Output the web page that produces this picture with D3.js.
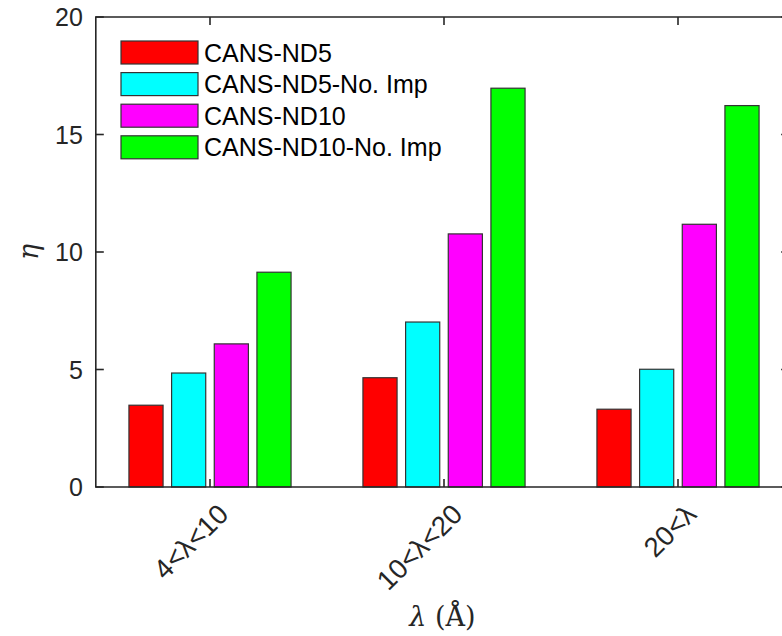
<!DOCTYPE html>
<html>
<head>
<meta charset="utf-8">
<script src="https://cdn.jsdelivr.net/npm/d3@7"></script>
<style>
  html, body { margin: 0; padding: 0; background: #fff; overflow: hidden; }
  svg { display: block; }
</style>
</head>
<body>
<div id="chart"></div>
<script>
// ─── Data ───
const categories = ['4<λ<10', '10<λ<20', '20<λ'];
const seriesNames = ['CANS-ND5', 'CANS-ND5-No. Imp', 'CANS-ND10', 'CANS-ND10-No. Imp'];
const seriesColors = ['#ff0000', '#00ffff', '#ff00ff', '#00ff00'];
const nd5 = [3.48, 4.65, 3.31];
const nd5NoImp = [4.85, 7.02, 5.01];
const nd10 = [6.09, 10.77, 11.18];
const nd10NoImp = [9.14, 16.97, 16.23];
const yTicks = [0, 5, 10, 15, 20];

const seriesValues = [nd5, nd5NoImp, nd10, nd10NoImp];

const W = 782, H = 636;
const axisColor = '#262626';
const sans = "'Liberation Sans', Arial, Helvetica, sans-serif";
const serif = "'DejaVu Serif', 'Liberation Serif', serif";

const svg = d3.select('#chart').append('svg')
  .attr('width', W)
  .attr('height', H);

// ─── Scales ───
const x = d3.scaleLinear().domain([1, 3]).range([210, 678]);
const xLo = 0.512, xHi = 3.475;
const y = d3.scaleLinear().domain([0, 20]).range([487, 17]);

const inner = d3.scaleBand()
  .domain(seriesNames)
  .range([-85.33, 85.33])
  .paddingInner(0.2)
  .paddingOuter(0.1);

// ─── Bars ───
const groups = svg.append('g').selectAll('g')
  .data(categories)
  .join('g')
  .attr('transform', (d, i) => `translate(${x(i + 1)},0)`);

groups.selectAll('rect')
  .data((d, i) => seriesNames.map((s, k) => ({ s, k, v: seriesValues[k][i] })))
  .join('rect')
  .attr('x', d => inner(d.s))
  .attr('width', inner.bandwidth())
  .attr('y', d => y(d.v))
  .attr('height', d => y(0) - y(d.v))
  .attr('fill', d => seriesColors[d.k])
  .attr('stroke', '#333')
  .attr('stroke-width', 1.2);

// ─── Axes box ───
const x0 = x(xLo), x1 = x(xHi);
const frame = svg.append('g')
  .attr('stroke', axisColor)
  .attr('stroke-width', 1.6)
  .attr('fill', 'none');
frame.append('path')
  .attr('d', `M${x0},${y(20)}H${x1}V${y(0)}H${x0}Z`);

// y ticks (left + right, inward)
yTicks.forEach(t => {
  frame.append('line').attr('x1', x0).attr('x2', x0 + 8).attr('y1', y(t)).attr('y2', y(t));
  frame.append('line').attr('x1', x1).attr('x2', x1 - 8).attr('y1', y(t)).attr('y2', y(t));
});
// x ticks (bottom + top, inward)
categories.forEach((c, i) => {
  const cx = x(i + 1);
  frame.append('line').attr('x1', cx).attr('x2', cx).attr('y1', y(0)).attr('y2', y(0) - 8);
  frame.append('line').attr('x1', cx).attr('x2', cx).attr('y1', y(20)).attr('y2', y(20) + 8);
});

// y tick labels
svg.append('g').selectAll('text')
  .data(yTicks)
  .join('text')
  .attr('x', x0 - 13)
  .attr('y', d => y(d))
  .attr('dy', '0.36em')
  .attr('text-anchor', 'end')
  .attr('font-family', sans)
  .attr('font-size', '25px')
  .attr('fill', axisColor)
  .text(d => d);

// x tick labels, rotated 45°
svg.append('g').selectAll('text')
  .data(categories)
  .join('text')
  .attr('transform', (d, i) => `translate(${x(i + 1) + 6},${y(0) + 15}) rotate(-45)`)
  .attr('dy', '0.72em')
  .attr('text-anchor', 'end')
  .attr('font-family', sans)
  .attr('font-size', '27.5px')
  .attr('fill', axisColor)
  .text(d => d);

// axis labels
svg.append('text')
  .attr('transform', `translate(${(x0 + x1) / 2},626)`)
  .attr('text-anchor', 'middle')
  .attr('font-family', serif)
  .attr('font-size', '27px')
  .attr('fill', axisColor)
  .html('<tspan font-style="italic">λ</tspan> (Å)');

svg.append('text')
  .attr('transform', `translate(38,${y(10)}) rotate(-90)`)
  .attr('text-anchor', 'middle')
  .attr('font-family', serif)
  .attr('font-style', 'italic')
  .attr('font-size', '27px')
  .attr('fill', axisColor)
  .text('η');

// ─── Legend ───
const legend = svg.append('g').attr('transform', 'translate(121,41)');
const rows = legend.selectAll('g')
  .data(seriesNames)
  .join('g')
  .attr('transform', (d, i) => `translate(0,${i * 31.6})`);
rows.append('rect')
  .attr('width', 77)
  .attr('height', 23)
  .attr('fill', (d, i) => seriesColors[i])
  .attr('stroke', '#333')
  .attr('stroke-width', 1.2);
rows.append('text')
  .attr('x', 83)
  .attr('y', 11.5)
  .attr('dy', '0.36em')
  .attr('font-family', sans)
  .attr('font-size', '25px')
  .attr('fill', '#000')
  .text(d => d);
</script>
</body>
</html>
